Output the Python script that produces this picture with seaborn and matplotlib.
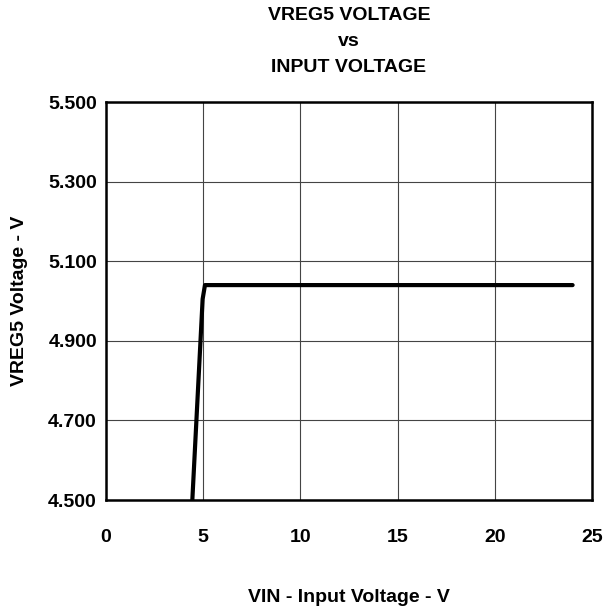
import seaborn as sns
from matplotlib import pyplot as plt
import pandas as pd

# data
vin = [4.44, 4.97, 5.09, 24.0]
vreg5 = [4.50, 5.005, 5.04, 5.04]

x_ticks = [0, 5, 10, 15, 20, 25]
y_ticks = [4.5, 4.7, 4.9, 5.1, 5.3, 5.5]
title_lines = ['VREG5 VOLTAGE', 'vs', 'INPUT VOLTAGE']

sns.set_style('white')
plt.rcParams['font.family'] = ['Liberation Sans', 'DejaVu Sans']
plt.rcParams['font.weight'] = 'bold'
for key in ['text.color', 'axes.labelcolor', 'xtick.color', 'ytick.color']:
    plt.rcParams[key] = 'black'
fs = 14

df = pd.DataFrame({'VIN': vin, 'VREG5': vreg5})

fig = plt.figure(figsize=(6.11, 6.13), dpi=100)
ax = fig.add_axes([0.1735, 0.1843, 0.7955, 0.6493])

sns.lineplot(data=df, x='VIN', y='VREG5', ax=ax, color='black',
             linewidth=3, sort=False, estimator=None)

ax.set_xlim(0, 25)
ax.set_ylim(4.5, 5.5)
ax.set_xticks(x_ticks)
ax.set_yticks(y_ticks)
ax.set_xticklabels([str(t) for t in x_ticks], fontsize=fs, fontweight='bold')
ax.set_yticklabels([f'{t:.3f}' for t in y_ticks], fontsize=fs, fontweight='bold')
ax.tick_params(length=0)
ax.tick_params(axis='y', pad=6.5)
ax.tick_params(axis='x', pad=21)

ax.grid(True, color='#444444', linewidth=0.8)
for sp in ax.spines.values():
    sp.set_visible(True)
    sp.set_color('black')
    sp.set_linewidth(1.8)

ax.set_xlabel('VIN - Input Voltage - V', fontsize=fs, fontweight='bold', va='center')
ax.xaxis.set_label_coords(0.5, -0.244)
ax.set_ylabel('VREG5 Voltage - V', fontsize=fs, fontweight='bold', va='center')
ax.yaxis.set_label_coords(-0.177, 0.5)

# three-line title, placed line by line
for line, ypix in zip(title_lines, [15, 42, 68]):
    fig.text(349 / 611, 1 - ypix / 613, line, ha='center', va='center',
             fontsize=fs, fontweight='bold')

fig.savefig('out.png', dpi=100)
